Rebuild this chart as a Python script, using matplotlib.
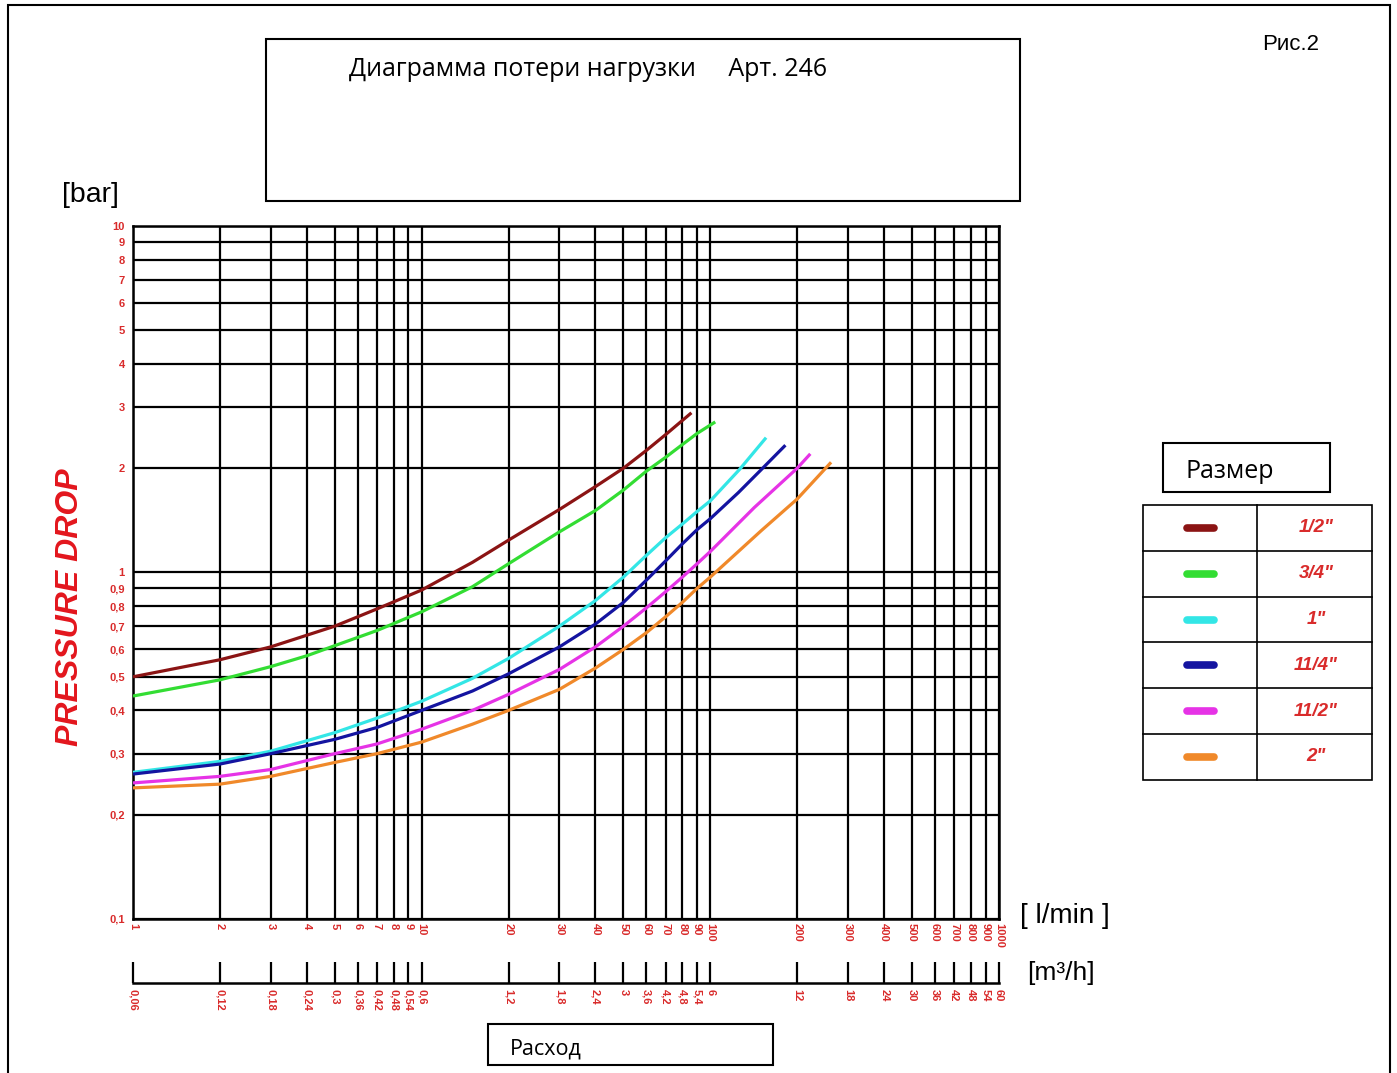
import matplotlib
matplotlib.use("Agg")
import matplotlib.pyplot as plt
from matplotlib.patches import Rectangle
from matplotlib.lines import Line2D
from matplotlib.ticker import NullLocator

W, H = 1397, 1073

# l/min axis ticks and labels
flow_ticks = [1, 2, 3, 4, 5, 6, 7, 8, 9, 10,
              20, 30, 40, 50, 60, 70, 80, 90, 100,
              200, 300, 400, 500, 600, 700, 800, 900, 1000]
flow_labels = [str(v) for v in flow_ticks]

# m3/h axis ticks and labels
m3h_ticks = [0.06, 0.12, 0.18, 0.24, 0.3, 0.36, 0.42, 0.48, 0.54, 0.6,
             1.2, 1.8, 2.4, 3, 3.6, 4.2, 4.8, 5.4, 6,
             12, 18, 24, 30, 36, 42, 48, 54, 60]
m3h_labels = ["0,06", "0,12", "0,18", "0,24", "0,3", "0,36", "0,42", "0,48", "0,54", "0,6",
              "1,2", "1,8", "2,4", "3", "3,6", "4,2", "4,8", "5,4", "6",
              "12", "18", "24", "30", "36", "42", "48", "54", "60"]

# pressure axis ticks and labels
dp_ticks = [0.1, 0.2, 0.3, 0.4, 0.5, 0.6, 0.7, 0.8, 0.9,
            1, 2, 3, 4, 5, 6, 7, 8, 9, 10]
dp_labels = ["0,1", "0,2", "0,3", "0,4", "0,5", "0,6", "0,7", "0,8", "0,9",
             "1", "2", "3", "4", "5", "6", "7", "8", "9", "10"]

# curves: flow [l/min] vs pressure drop [bar]
flow_12 = [1, 2, 3, 5, 7, 10, 15, 20, 30, 40, 50, 60, 70, 86]
dp_12 = [0.50, 0.56, 0.61, 0.70, 0.785, 0.89, 1.07, 1.24, 1.52, 1.77, 2.0, 2.25, 2.5, 2.89]

flow_34 = [1, 2, 3, 4, 5, 7, 10, 15, 20, 30, 40, 50, 60, 70, 80, 90, 104]
dp_34 = [0.44, 0.49, 0.535, 0.575, 0.615, 0.68, 0.77, 0.91, 1.06, 1.31, 1.51, 1.73, 1.96, 2.15, 2.34, 2.52, 2.72]

flow_1 = [1, 2, 3, 5, 7, 10, 15, 20, 30, 40, 50, 60, 70, 80, 90, 100, 126, 156]
dp_1 = [0.265, 0.285, 0.305, 0.345, 0.38, 0.425, 0.495, 0.565, 0.70, 0.83, 0.97, 1.12, 1.26, 1.38, 1.50, 1.61, 1.98, 2.45]

flow_114 = [1, 2, 3, 5, 7, 10, 15, 20, 30, 40, 50, 60, 70, 80, 90, 100, 125, 150, 182]
dp_114 = [0.262, 0.28, 0.30, 0.33, 0.357, 0.40, 0.455, 0.51, 0.61, 0.71, 0.82, 0.95, 1.08, 1.21, 1.33, 1.43, 1.70, 1.98, 2.33]

flow_112 = [1, 2, 3, 5, 7, 10, 15, 20, 30, 40, 50, 60, 70, 80, 90, 100, 142, 200, 222]
dp_112 = [0.247, 0.258, 0.27, 0.30, 0.32, 0.353, 0.40, 0.445, 0.525, 0.61, 0.70, 0.79, 0.88, 0.97, 1.06, 1.15, 1.54, 2.0, 2.2]

flow_2 = [1, 2, 3, 5, 7, 10, 15, 20, 30, 40, 50, 60, 70, 80, 90, 100, 150, 200, 262]
dp_2 = [0.239, 0.245, 0.258, 0.283, 0.30, 0.324, 0.365, 0.40, 0.46, 0.53, 0.60, 0.67, 0.745, 0.82, 0.90, 0.97, 1.32, 1.63, 2.08]

sizes = ['1/2"', '3/4"', '1"', '11/4"', '11/2"', '2"']
colors = ["#8b1414", "#33dd33", "#33e6e6", "#1414a0", "#e633e6", "#f0892a"]
series = [(flow_12, dp_12), (flow_34, dp_34), (flow_1, dp_1),
          (flow_114, dp_114), (flow_112, dp_112), (flow_2, dp_2)]

RED = "#d92b2b"
SANS = ["Liberation Sans", "DejaVu Sans"]
CAL = ["Open Sans", "DejaVu Sans"]


def fx(px):
    return px / W


def fy(py):
    return 1 - py / H


def box(fig, x0, y0, x1, y1, lw=1.5):
    fig.patches.append(Rectangle((fx(x0), fy(y1)), fx(x1) - fx(x0), fy(y0) - fy(y1),
                                 transform=fig.transFigure, fill=False,
                                 edgecolor="black", linewidth=lw))


def hline(fig, x0, x1, y, lw=1.2):
    fig.lines.append(Line2D([fx(x0), fx(x1)], [fy(y), fy(y)],
                            transform=fig.transFigure, color="black", linewidth=lw))


def vline(fig, x, y0, y1, lw=1.2):
    fig.lines.append(Line2D([fx(x), fx(x)], [fy(y0), fy(y1)],
                            transform=fig.transFigure, color="black", linewidth=lw))


fig = plt.figure(figsize=(W / 100, H / 100), dpi=100)

# main chart
ax = fig.add_axes([fx(133), fy(919), (999 - 133) / W, (919 - 226) / H])
ax.set_xscale("log")
ax.set_yscale("log")
ax.set_xlim(1, 1000)
ax.set_ylim(0.1, 10)
ax.set_xticks(flow_ticks)
ax.set_xticklabels(flow_labels, rotation=270)
ax.set_yticks(dp_ticks)
ax.set_yticklabels(dp_labels)
ax.xaxis.set_minor_locator(NullLocator())
ax.yaxis.set_minor_locator(NullLocator())
ax.grid(True, which="major", color="black", linewidth=1.6)
ax.tick_params(axis="both", length=0, labelcolor=RED)
ax.tick_params(axis="x", pad=3, labelsize=8)
ax.tick_params(axis="y", pad=6, labelsize=8)
for lab in ax.get_xticklabels() + ax.get_yticklabels():
    lab.set_fontweight("bold")
    lab.set_family(SANS)
for sp in ax.spines.values():
    sp.set_linewidth(1.8)

for (fl, dp), c in zip(series, colors):
    ax.plot(fl, dp, color=c, linewidth=2.3, solid_capstyle="butt", zorder=3)

# m3/h scale
ax2 = fig.add_axes([fx(133), fy(983), (999 - 133) / W, (983 - 962) / H])
ax2.set_xscale("log")
ax2.set_xlim(0.06, 60)
ax2.set_xticks(m3h_ticks)
ax2.set_xticklabels(m3h_labels, rotation=270)
ax2.xaxis.set_minor_locator(NullLocator())
ax2.set_yticks([])
ax2.patch.set_visible(False)
for side in ("top", "left", "right"):
    ax2.spines[side].set_visible(False)
ax2.spines["bottom"].set_linewidth(1.8)
ax2.tick_params(axis="x", direction="in", length=15, width=1.6, pad=4,
                labelsize=8, labelcolor=RED)
for lab in ax2.get_xticklabels():
    lab.set_fontweight("bold")
    lab.set_family(SANS)

# outer frame and boxes
box(fig, 8, 5, 1390, 1085, lw=1.5)
box(fig, 266, 39, 1020, 201)
fig.text(fx(349), fy(69), "Диаграмма потери нагрузки     Арт. 246",
         family=CAL, fontsize=18, va="center", ha="left")
fig.text(fx(1262), fy(45), "Рис.2", family=SANS, fontsize=16, va="center", ha="left")
fig.text(fx(90), fy(195), "[bar]", family=SANS, fontsize=20.5, va="center", ha="center")
fig.text(fx(70), fy(607), "PRESSURE DROP", family=SANS, fontsize=23, color="#e3161d",
         fontweight="bold", fontstyle="italic", rotation=90, va="center", ha="center")
fig.text(fx(1020), fy(916), "[ l/min ]", family=SANS, fontsize=20, va="center", ha="left")
fig.text(fx(1027), fy(973), "[m³/h]", family=SANS, fontsize=19, va="center", ha="left")

# size legend
box(fig, 1163, 443, 1330, 492)
fig.text(fx(1185), fy(472), "Размер", family=CAL, fontsize=18, va="center", ha="left")
top, row_h = 505, 45.8
box(fig, 1143, top, 1372, top + 6 * row_h, lw=1.2)
vline(fig, 1257, top, top + 6 * row_h)
for i, (name, c) in enumerate(zip(sizes, colors)):
    if i > 0:
        hline(fig, 1143, 1372, top + i * row_h)
    yc = top + (i + 0.5) * row_h
    fig.lines.append(Line2D([fx(1187), fx(1214)], [fy(yc), fy(yc)], transform=fig.transFigure,
                            color=c, linewidth=5.5, solid_capstyle="round"))
    fig.text(fx(1316), fy(yc), name, family=SANS, fontsize=13.5, color=RED,
             fontweight="bold", fontstyle="italic", va="center", ha="center")

# flow label
box(fig, 488, 1024, 773, 1065)
fig.text(fx(510), fy(1049), "Расход", family=CAL, fontsize=15.5, va="center", ha="left")

fig.savefig("out.png", dpi=100)
